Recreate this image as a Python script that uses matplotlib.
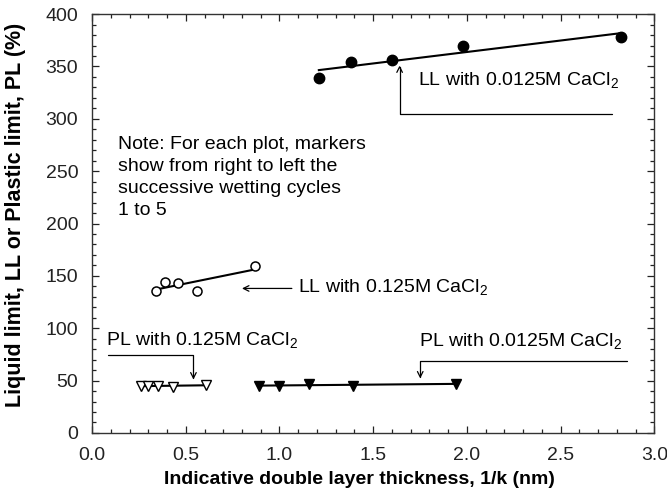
import numpy as np
import matplotlib
matplotlib.use("Agg")
import matplotlib.pyplot as plt
from matplotlib.ticker import MultipleLocator, FormatStrFormatter

plt.rcParams['font.family'] = ['Liberation Sans', 'DejaVu Sans']
plt.rcParams['mathtext.fontset'] = 'custom'
plt.rcParams['mathtext.rm'] = 'Liberation Sans'
plt.rcParams['mathtext.it'] = 'Liberation Sans:italic'

# LL with 0.0125M CaCl2 (filled circles)
ll_low_x = [1.21, 1.38, 1.60, 1.98, 2.82]
ll_low_y = [339, 354, 356, 370, 378]

# LL with 0.125M CaCl2 (open circles)
ll_high_x = [0.34, 0.39, 0.46, 0.56, 0.87]
ll_high_y = [136, 144, 143, 136, 159]

# PL with 0.125M CaCl2 (open triangles)
pl_high_x = [0.26, 0.30, 0.35, 0.43, 0.61]
pl_high_y = [45, 45, 45, 44, 46]

# PL with 0.0125M CaCl2 (filled triangles)
pl_low_x = [0.89, 1.00, 1.16, 1.39, 1.94]
pl_low_y = [45, 45, 47, 45, 47]

note = ("Note: For each plot, markers\nshow from right to left the\n"
        "successive wetting cycles\n1 to 5")

FS = 14


def trend(ax, x, y):
    # least squares line across the data range
    k, b = np.polyfit(x, y, 1)
    xs = np.array([min(x), max(x)])
    ax.plot(xs, k * xs + b, color='black', lw=1.5, zorder=2)


def callout(ax, xy, xytext, style='angle,angleA=0,angleB=90,rad=0'):
    ax.annotate('', xy=xy, xytext=xytext,
                arrowprops=dict(arrowstyle='->', color='black', lw=0.9,
                                shrinkA=0, shrinkB=0, connectionstyle=style))


fig = plt.figure(figsize=(6.67, 5.04), dpi=100)
ax = fig.add_axes([0.138, 0.141, 0.843, 0.831])

trend(ax, ll_low_x, ll_low_y)
trend(ax, ll_high_x, ll_high_y)
trend(ax, pl_high_x, pl_high_y)
trend(ax, pl_low_x, pl_low_y)

ax.plot(ll_low_x, ll_low_y, 'o', ms=7.5, color='black', zorder=3)
ax.plot(ll_high_x, ll_high_y, 'o', ms=6.5, mfc='white', mec='black', mew=1.1, zorder=3)
ax.plot(pl_high_x, pl_high_y, 'v', ms=6.5, mfc='white', mec='black', mew=1.0, zorder=3)
ax.plot(pl_low_x, pl_low_y, 'v', ms=6.5, color='black', zorder=3)

# callouts
callout(ax, (1.641, 351), (2.775, 305))
ax.text(1.74, 337, r'LL with 0.0125M CaCl$_2$', fontsize=FS, va='center')

callout(ax, (0.80, 138), (1.066, 138), style='arc3')
ax.text(1.10, 139, r'LL with 0.125M CaCl$_2$', fontsize=FS, va='center')

callout(ax, (0.541, 51), (0.087, 74))
ax.text(0.073, 89, r'PL with 0.125M CaCl$_2$', fontsize=FS, va='center')

callout(ax, (1.751, 52), (2.855, 68.5))
ax.text(1.742, 88, r'PL with 0.0125M CaCl$_2$', fontsize=FS, va='center')

ax.text(0.14, 284, note, fontsize=FS, va='top', linespacing=1.4)

ax.set_xlim(0, 3.0)
ax.set_ylim(0, 400)
ax.xaxis.set_major_locator(MultipleLocator(0.5))
ax.xaxis.set_minor_locator(MultipleLocator(0.1))
ax.yaxis.set_major_locator(MultipleLocator(50))
ax.yaxis.set_minor_locator(MultipleLocator(10))
ax.xaxis.set_major_formatter(FormatStrFormatter('%.1f'))
ax.tick_params(which='both', direction='in', top=True, right=True,
               labelsize=FS, colors='#222222', width=0.9)
ax.tick_params(which='major', length=5, pad=10)
ax.tick_params(which='minor', length=3)
for s in ax.spines.values():
    s.set_linewidth(1.0)
    s.set_color('#333333')

ax.set_xlabel('Indicative double layer thickness, 1/k (nm)', fontsize=FS,
              fontweight='bold', labelpad=5)
ax.set_ylabel('Liquid limit, LL or Plastic limit, PL (%)', fontsize=15.5,
              fontweight='bold', labelpad=14)
ax.xaxis.label.set_x(0.475)
ax.yaxis.label.set_y(0.52)

fig.savefig('out.png', dpi=100)
